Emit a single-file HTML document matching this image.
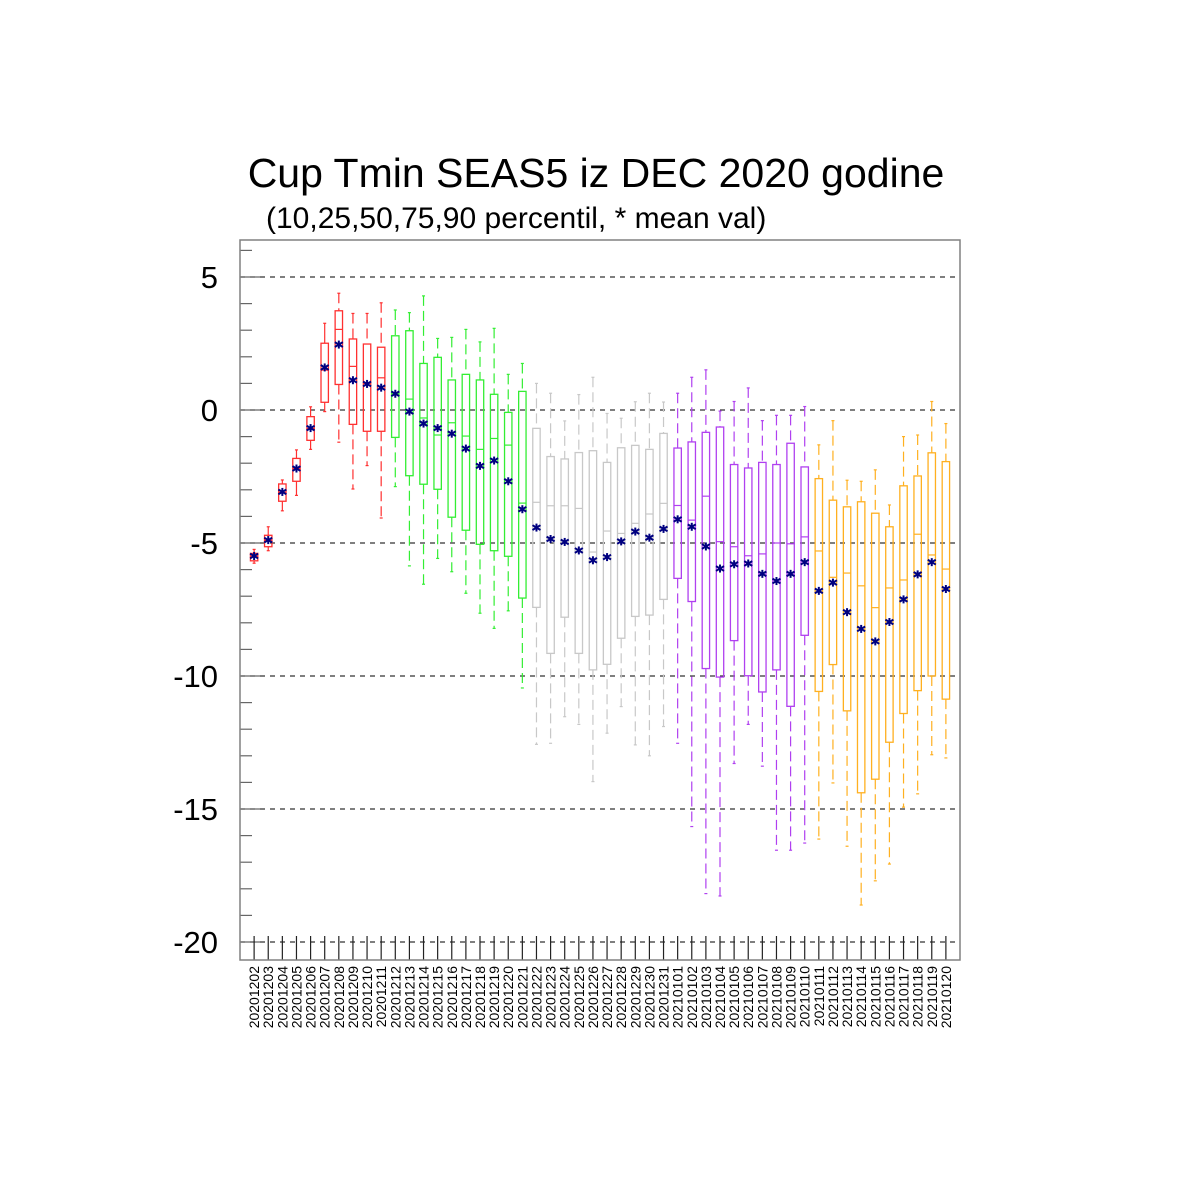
<!DOCTYPE html>
<html><head><meta charset="utf-8"><style>
html,body{margin:0;padding:0;background:#fff;}
svg{display:block;font-family:"Liberation Sans",sans-serif;}
</style></head><body>
<svg id="chart" width="1200" height="1200" viewBox="0 0 1200 1200" xmlns="http://www.w3.org/2000/svg">
<text x="596" y="187" font-size="41" text-anchor="middle">Cup Tmin SEAS5 iz DEC 2020 godine</text>
<text x="266" y="228" font-size="30">(10,25,50,75,90 percentil, * mean val)</text>
<g id="grid"></g>
<g id="marks"></g>
<g id="axes"></g>
<rect x="240" y="240" width="720" height="720" fill="none" stroke="#808080" stroke-width="1.5"/>
</svg>
<script>
const categories = ["20201202","20201203","20201204","20201205","20201206","20201207","20201208","20201209","20201210","20201211","20201212","20201213","20201214","20201215","20201216","20201217","20201218","20201219","20201220","20201221","20201222","20201223","20201224","20201225","20201226","20201227","20201228","20201229","20201230","20201231","20210101","20210102","20210103","20210104","20210105","20210106","20210107","20210108","20210109","20210110","20210111","20210112","20210113","20210114","20210115","20210116","20210117","20210118","20210119","20210120"];
const p90 = [-5.24,-4.39,-2.63,-1.5,0.12,3.26,4.39,3.63,3.63,4.03,3.76,3.66,4.29,2.69,2.73,3.03,2.56,3.07,1.34,1.75,1.0,0.63,-0.41,0.58,1.23,-0.13,-0.31,0.31,0.63,0.3,0.63,1.23,1.51,-0.04,0.32,0.83,-0.4,-0.2,-0.2,0.13,-1.31,-0.4,-2.64,-2.68,-2.25,-3.57,-1.0,-0.94,0.32,-0.51];
const p75 = [-5.39,-4.71,-2.78,-1.82,-0.25,2.51,3.73,2.67,2.48,2.36,2.79,2.98,1.75,1.98,1.13,1.34,1.13,0.59,-0.09,0.7,-0.69,-1.75,-1.84,-1.6,-1.53,-1.97,-1.42,-1.33,-1.48,-0.88,-1.43,-1.2,-0.84,-0.64,-2.05,-2.18,-1.97,-2.05,-1.25,-2.14,-2.58,-3.39,-3.64,-3.45,-3.88,-4.39,-2.85,-2.48,-1.61,-1.94];
const p50 = [-5.5,-4.9,-3.1,-2.2,-0.7,1.5,3.03,1.64,1.0,1.21,0.6,0.41,-0.3,-0.94,-0.48,-0.98,-1.48,-1.07,-1.32,-3.5,-3.47,-3.6,-3.6,-3.7,-5.34,-4.55,-4.64,-4.26,-3.91,-3.51,-3.59,-4.14,-3.24,-4.95,-5.14,-5.48,-5.41,-5.0,-5.03,-4.77,-5.3,-6.29,-6.13,-6.61,-7.43,-6.69,-6.39,-4.67,-5.45,-5.98];
const p25 = [-5.67,-5.14,-3.43,-2.68,-1.14,0.29,0.96,-0.54,-0.8,-0.8,-1.03,-2.47,-2.79,-2.98,-4.03,-4.52,-5.05,-5.29,-5.5,-7.07,-7.42,-9.15,-7.79,-9.15,-9.77,-9.56,-8.58,-7.76,-7.71,-7.12,-6.33,-7.2,-9.72,-10.04,-8.67,-9.99,-10.6,-9.77,-11.14,-8.47,-10.58,-9.57,-11.31,-14.39,-13.88,-12.49,-11.41,-10.55,-10.0,-10.87];
const p10 = [-5.76,-5.29,-3.79,-3.21,-1.48,-0.06,-1.21,-2.97,-2.09,-4.06,-2.88,-5.86,-6.55,-5.58,-6.08,-6.89,-7.64,-8.21,-7.55,-10.45,-12.57,-12.53,-11.53,-11.82,-13.97,-12.15,-11.15,-12.59,-13.0,-11.9,-12.53,-15.66,-18.18,-18.27,-13.29,-11.82,-13.39,-16.55,-16.55,-16.28,-16.13,-14.02,-16.4,-18.61,-17.7,-17.07,-14.93,-14.43,-12.96,-13.08];
const means = [-5.49,-4.89,-3.08,-2.2,-0.68,1.6,2.46,1.12,0.98,0.84,0.61,-0.06,-0.51,-0.68,-0.89,-1.45,-2.1,-1.9,-2.68,-3.73,-4.42,-4.85,-4.96,-5.28,-5.65,-5.53,-4.94,-4.57,-4.8,-4.47,-4.11,-4.39,-5.13,-5.96,-5.8,-5.77,-6.16,-6.43,-6.16,-5.72,-6.8,-6.49,-7.6,-8.23,-8.7,-7.97,-7.12,-6.18,-5.72,-6.73];
const yTicks = [5,0,-5,-10,-15,-20];
const yTickLabels = ["5","0","-5","-10","-15","-20"];

const NS="http://www.w3.org/2000/svg";
const X0=240,X1=960,Y0=240,Y1=960;
function yScale(v){return 410-(v)*26.6;}
function xScale(i){return X0+(i+1)*(X1-X0)/(categories.length+1);}
function colorFor(i){
  if(i<10) return "#ff3030";
  if(i<20) return "#33ee33";
  if(i<30) return "#c8c8c8";
  if(i<40) return "#b040f0";
  return "#ffb020";
}
function mk(tag,attrs,parent){const e=document.createElementNS(NS,tag);for(const k in attrs)e.setAttribute(k,attrs[k]);parent.appendChild(e);return e;}
const grid=document.getElementById('grid'),marks=document.getElementById('marks'),axes=document.getElementById('axes');

yTicks.forEach((t,k)=>{
  const y=yScale(t);
  const g=mk('line',{x1:X0,x2:X1,y1:y,y2:y,stroke:"#333",'stroke-width':1.2,'stroke-dasharray':"5,5"},grid);
  
  
  const tl=mk('text',{x:218,y:y+11,'font-size':31,'text-anchor':'end',fill:'#000'},axes);
  tl.textContent=yTickLabels[k];
  
  
});
for(let v=6;v>=-20;v--){
  const y=yScale(v);
  const major=(v%5===0);
  const tk=mk('line',{x1:X0,x2:X0+(major?20:12),y1:y,y2:y,stroke:"#666",'stroke-width':1.2},axes);
  
  
}

categories.forEach((c,i)=>{
  const x=xScale(i), col=colorFor(i), hw=3.7;
  const tk=mk('line',{x1:x,x2:x,y1:Y1,y2:Y1-24,stroke:"#222",'stroke-width':1.2},axes);
  
  
  const lb=mk('text',{x:0,y:0,'font-size':14,'text-anchor':'end',transform:`translate(${x+5},966) rotate(-90)`},axes);
  lb.textContent=c;
  
  

  const g=mk('g',{},marks);
  
  
  const dash = i<6 ? "none" : "10,5";
  const wu=mk('line',{x1:x,x2:x,y1:yScale(p90[i]),y2:yScale(p75[i]),stroke:col,'stroke-width':1.2,'stroke-dasharray':dash},g);
  
  
  const wl=mk('line',{x1:x,x2:x,y1:yScale(p25[i]),y2:yScale(p10[i]),stroke:col,'stroke-width':1.2,'stroke-dasharray':dash},g);
  
  
  [p90[i],p10[i]].forEach(v=>{
    const cp=mk('line',{x1:x-1.5,x2:x+1.5,y1:yScale(v),y2:yScale(v),stroke:col,'stroke-width':1.2},g);
    
    
  });
  const bx=mk('rect',{x:x-hw,y:yScale(p75[i]),width:hw*2,height:yScale(p25[i])-yScale(p75[i]),fill:'none',stroke:col,'stroke-width':1.3},g);
  
  
  const md=mk('line',{x1:x-hw,x2:x+hw,y1:yScale(p50[i]),y2:yScale(p50[i]),stroke:col,'stroke-width':1.2},g);
  
  
  const my=yScale(means[i]), s=4;
  const m=mk('g',{stroke:'#000080','stroke-width':2},g);
  
  
  mk('line',{x1:x,x2:x,y1:my-s,y2:my+s},m);
  mk('line',{x1:x-s,x2:x+s,y1:my-s*0.6,y2:my+s*0.6},m);
  mk('line',{x1:x-s,x2:x+s,y1:my+s*0.6,y2:my-s*0.6},m);
});
</script>
</body></html>
